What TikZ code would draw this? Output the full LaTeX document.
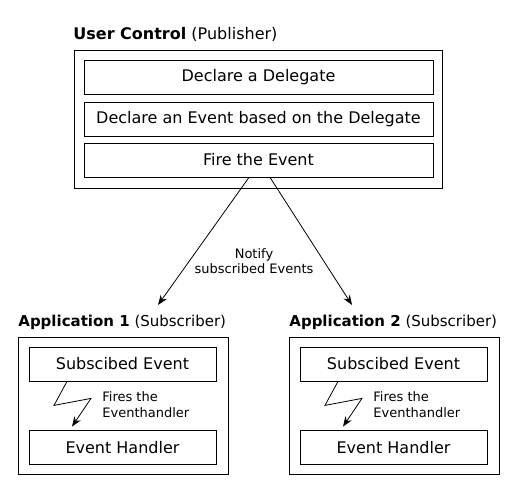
\documentclass[tikz,border=0pt]{standalone}
\usepackage{fontspec}
\setmainfont{DejaVu Sans}
\usetikzlibrary{arrows,arrows.meta}
\usetikzlibrary{calc}

\tikzset{
    frame/.style={draw, inner sep=0pt},
    stepbox/.style={draw, inner sep=0pt, minimum height=34pt, font=\fontsize{16}{19}\selectfont},
    title/.style={anchor=base west, inner sep=0pt, font=\fontsize{16}{19}\selectfont},
    note/.style={inner sep=0pt, font=\fontsize{13}{15.5}\selectfont},
    pfeil/.style={-{Stealth[length=10pt,width=7.5pt]}},
}

\begin{document}
\begin{tikzpicture}[x=1pt, y=-1pt, line width=0.8pt]

    \useasboundingbox (0,0) rectangle (520,502);

    % publisher
    \node[frame, minimum width=368pt, minimum height=138pt] (ctrl) at (258,119) {};
    \node[title] (ctrltitle) at (73,40) {\textbf{User Control} (Publisher)};
    \node[stepbox, minimum width=349pt] (decl) at (258.5,77.5) {Declare a Delegate};
    \node[stepbox, minimum width=349pt] (event) at (258.5,119) {Declare an Event based on the Delegate};
    \node[stepbox, minimum width=349pt] (fire) at (258.5,160) {Fire the Event};

    \coordinate (to1) at (158,305);
    \coordinate (to2) at (352,305);
    \draw[pfeil] ([xshift=-9.5pt]fire.south) -- (to1);
    \draw[pfeil] ([xshift=11.5pt]fire.south) -- (to2);
    \node[note, align=center] (notify) at (254,261) {Notify\\subscribed Events};

    % subscribers
    \foreach \i/\dx in {1/0, 2/271} {
        \begin{scope}[xshift=\dx pt]
            \node[frame, minimum width=210pt, minimum height=137pt] (app\i) at (123,405.5) {};
            \node[title, font=\fontsize{15}{18}\selectfont] (apptitle\i) at (18,327) {\textbf{Application \i} (Subscriber)};
            \node[stepbox, minimum width=187pt] (sub\i) at (122.5,364) {Subscibed Event};
            \node[stepbox, minimum width=187pt] (hdl\i) at (122.5,447.5) {Event Handler};
            \draw[pfeil] ([xshift=-55.5pt]sub\i.south) -- ++(-13,24) -- ++(37,-7) -- ([xshift=-50.5pt,yshift=3.5pt]hdl\i.north);
            \node[note, anchor=west, align=left] (fires\i) at (102,404.5) {Fires the\\Eventhandler};
        \end{scope}
    }

\end{tikzpicture}
\end{document}
